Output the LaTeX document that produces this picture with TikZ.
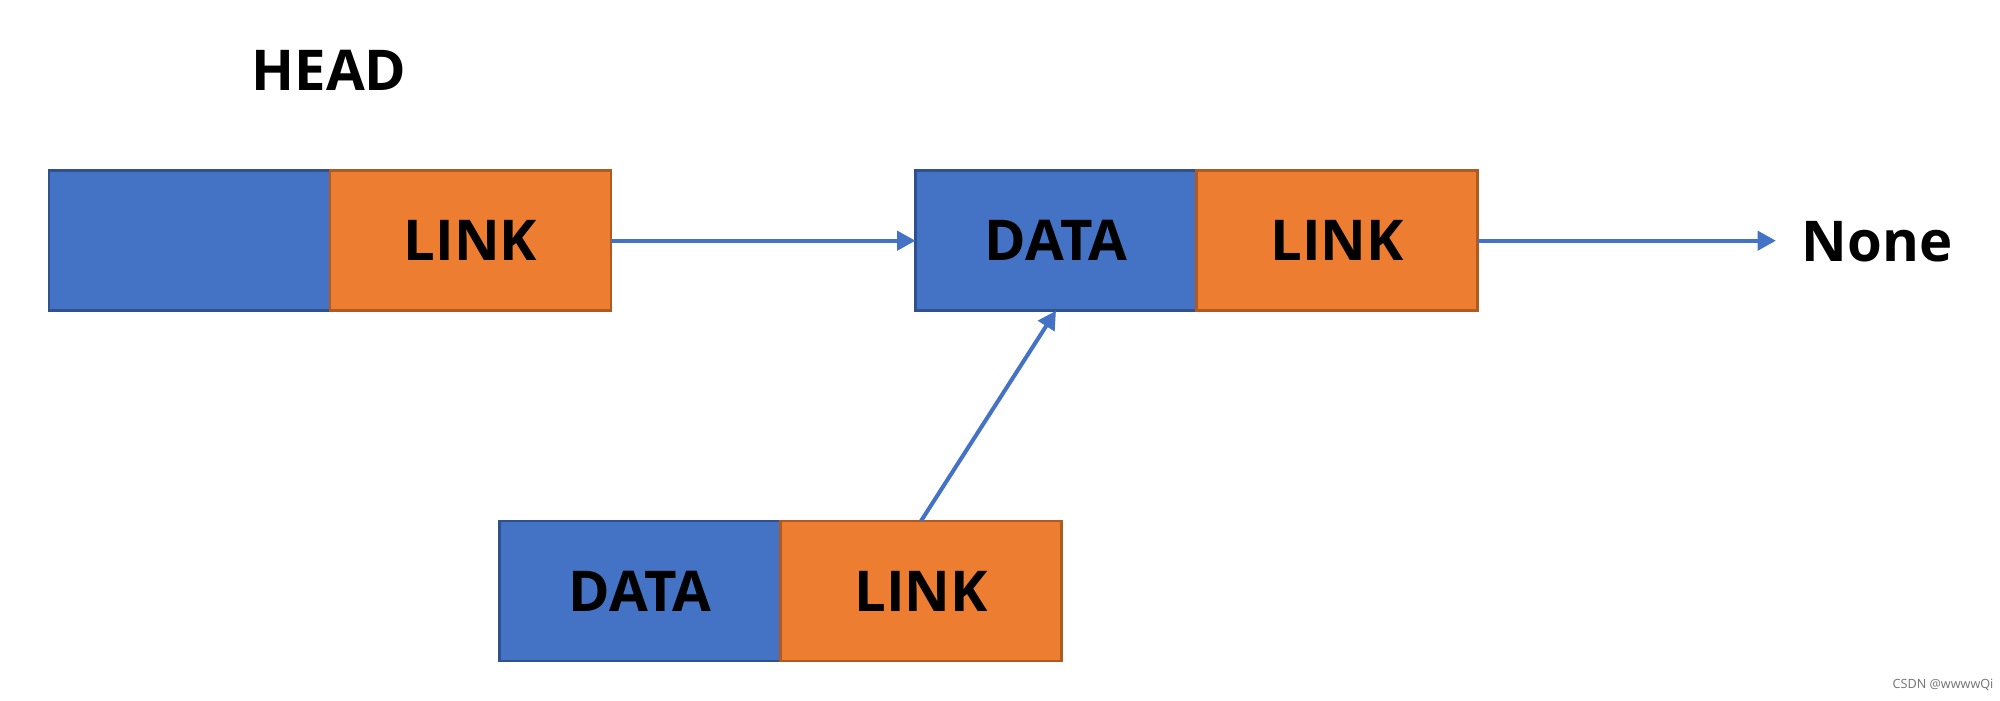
\documentclass[tikz,border=0pt]{standalone}
\usepackage{fontspec}
\setmainfont{Open Sans}
\usetikzlibrary{arrows.meta, positioning}

\definecolor{fieldblue}{HTML}{4472C4}
\definecolor{fieldblueline}{HTML}{2F528F}
\definecolor{fieldorange}{HTML}{ED7D31}
\definecolor{fieldorangeline}{HTML}{AE5A21}

\begin{document}
\begin{tikzpicture}[
  datafield/.style={draw=fieldblueline, fill=fieldblue, line width=0.8pt, outer sep=0pt, inner sep=0pt,
    minimum width=2.81cm, minimum height=1.40cm, font=\fontsize{16}{20}\selectfont\bfseries},
  linkfield/.style={datafield, draw=fieldorangeline, fill=fieldorange},
  pointer/.style={draw=fieldblue, line width=1.15pt, -{Triangle[length=5.2pt, width=5.4pt]}},
  plaintext/.style={inner sep=0pt, font=\fontsize{16}{20}\selectfont\bfseries}
  ]
    % page
    \useasboundingbox (0,0) rectangle (20,7);

    % head node
    \node[datafield] (headdata) at (1.895,4.593) {};
    \node[linkfield, right=0pt of headdata] (headlink) {LINK};
    \node[plaintext] (head) at (3.29,6.30) {HEAD};

    % second node
    \node[datafield] (secdata) at (10.56,4.593) {DATA};
    \node[linkfield, right=0pt of secdata] (seclink) {LINK};
    \node[plaintext] (none) at (18.77,4.58) {None};

    % new node
    \node[datafield] (newdata) at (6.40,1.09) {DATA};
    \node[linkfield, right=0pt of newdata] (newlink) {LINK};

    % pointers
    \draw[pointer] (headlink.east) -- (secdata.west);
    \draw[pointer, shorten >=0.25cm] (seclink.east) -- (seclink.east -| none.west);
    \draw[pointer] (newlink.north) -- (secdata.south);

    % watermark
    \node[inner sep=0pt, text=black!55, font=\fontsize{3.6}{4}\selectfont] (mark) at (19.43,0.15) {CSDN @wwwwQi};

\end{tikzpicture}
\end{document}
